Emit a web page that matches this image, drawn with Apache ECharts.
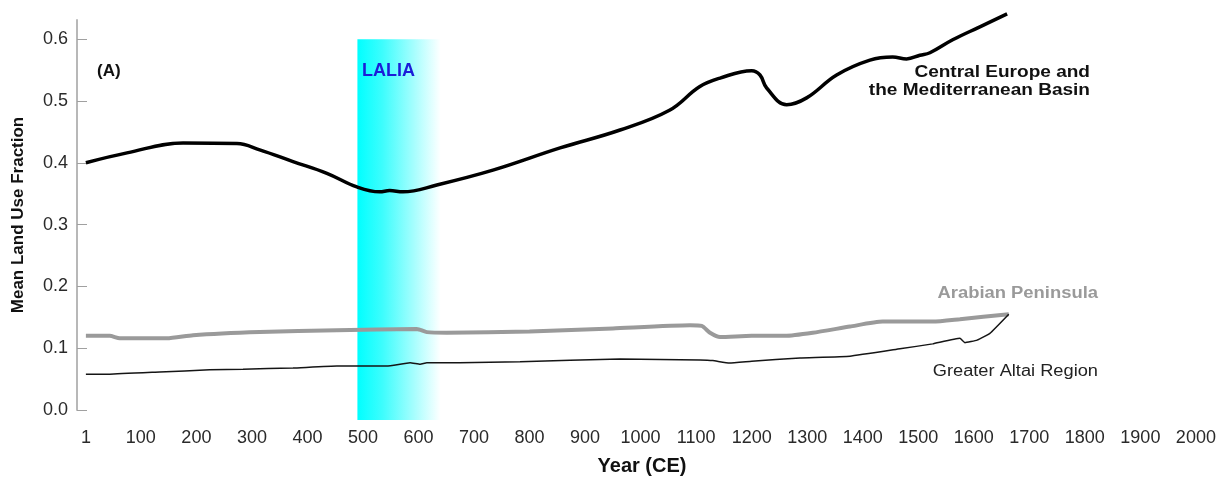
<!DOCTYPE html>
<html>
<head>
<meta charset="utf-8">
<script src="https://cdn.jsdelivr.net/npm/echarts@6/dist/echarts.min.js"></script>
<style>
html,body{margin:0;padding:0;background:#fff;}
#chart{width:1223px;height:479px;}
</style>
</head>
<body>
<div id="chart"></div>
<script>
// ---- data ----
var xTickLabels = [1,100,200,300,400,500,600,700,800,900,1000,1100,1200,1300,1400,1500,1600,1700,1800,1900,2000];
var yTickValues = [0,0.1,0.2,0.3,0.4,0.5,0.6];

var europeYears  = [1,75,176,273,314,374,435,489,530,548,572,633,734,855,963,1052,1106,1143,1200,1215,1227,1263,1299,1353,1413,1454,1479,1503,1521,1562,1611,1660];
var europeValues = [0.400,0.416,0.432,0.431,0.421,0.402,0.383,0.361,0.353,0.355,0.353,0.364,0.388,0.424,0.453,0.485,0.523,0.537,0.549,0.542,0.521,0.494,0.505,0.542,0.566,0.571,0.568,0.574,0.578,0.599,0.620,0.641];

var arabiaYears  = [1,44,62,147,194,314,453,597,615,651,800,950,1089,1110,1125,1143,1200,1260,1310,1377,1436,1526,1575,1663];
var arabiaValues = [0.120,0.120,0.116,0.116,0.121,0.126,0.129,0.131,0.126,0.125,0.127,0.132,0.137,0.136,0.125,0.118,0.120,0.120,0.125,0.135,0.143,0.143,0.147,0.155];

var altaiYears  = [1,44,134,224,284,374,453,543,585,603,615,674,783,963,1107,1130,1160,1200,1287,1377,1467,1526,1575,1584,1606,1629,1663];
var altaiValues = [0.058,0.058,0.0615,0.065,0.066,0.068,0.071,0.071,0.0765,0.074,0.0765,0.0765,0.078,0.0825,0.081,0.080,0.076,0.079,0.084,0.087,0.099,0.107,0.116,0.109,0.113,0.124,0.155];

var laliaStart = 490;
var laliaEnd = 640;
var laliaTop = 0.6;

function pairs(xs, ys){ return xs.map(function(x,i){ return [x, ys[i]]; }); }

var FONT = '"Liberation Sans", Arial, Helvetica, sans-serif';
var X_MIN = -15, X_MAX = 2020;

var chart = echarts.init(document.getElementById('chart'), null, {renderer:'canvas'});
var option = {
  backgroundColor: '#ffffff',
  animation: false,
  grid: [
    {left: 77, right: 16, top: 20, bottom: 69, containLabel: false, outerBoundsMode: 'none'},
    {left: 77, right: 16, top: 20, bottom: 59, containLabel: false, outerBoundsMode: 'none'}
  ],
  xAxis: [
    {
      type: 'value', gridIndex: 0, min: X_MIN, max: X_MAX,
      axisLine: {show: false, onZero: false}, axisTick: {show: false}, splitLine: {show: false},
      axisLabel: {customValues: xTickLabels, fontSize: 18, color: '#2a2a2a', fontFamily: FONT, margin: 19,
        formatter: function(v){ return String(Math.round(v)); }},
      name: 'Year (CE)', nameLocation: 'middle', nameGap: 46,
      nameTextStyle: {fontSize: 20, fontWeight: 'bold', color: '#111', fontFamily: FONT}
    },
    {
      type: 'value', gridIndex: 1, min: X_MIN, max: X_MAX, show: false
    }
  ],
  yAxis: [
    {
      type: 'value', gridIndex: 0, min: 0, max: 0.631,
      axisLine: {show: true, onZero: false, lineStyle: {color: '#b8b8b8', width: 2}},
      axisTick: {show: true, inside: true, length: 10, customValues: yTickValues, lineStyle: {color: '#a0a0a0', width: 1}},
      splitLine: {show: false},
      axisLabel: {customValues: yTickValues, fontSize: 18, color: '#2a2a2a', fontFamily: FONT, margin: 9,
        formatter: function(v){ return v.toFixed(1); }},
      name: 'Mean Land Use Fraction', nameLocation: 'middle', nameGap: 50, nameRotate: 90,
      nameTextStyle: {fontSize: 17, fontWeight: 'bold', color: '#111', fontFamily: FONT}
    },
    {
      type: 'value', gridIndex: 1, min: -0.0162, max: 0.631, show: false
    }
  ],
  series: [
    {
      type: 'line', xAxisIndex: 1, yAxisIndex: 1, data: [], z: 0, silent: true,
      markArea: {
        silent: true,
        itemStyle: {
          color: {type: 'linear', x: 0, y: 0, x2: 1, y2: 0,
            colorStops: [{offset: 0, color: '#00FFFF'}, {offset: 0.3, color: '#3DFDFD'}, {offset: 1, color: '#FFFFFF'}]}
        },
        data: [[{xAxis: laliaStart, yAxis: -0.0162}, {xAxis: laliaEnd, yAxis: laliaTop}]]
      }
    },
    {
      name: 'Arabian Peninsula', type: 'line', data: pairs(arabiaYears, arabiaValues),
      showSymbol: false, smooth: 0.2, lineStyle: {color: '#9a9a9a', width: 4}, z: 3
    },
    {
      name: 'Greater Altai Region', type: 'line', data: pairs(altaiYears, altaiValues),
      showSymbol: false, smooth: 0.1, lineStyle: {color: '#151515', width: 1.5}, z: 4
    },
    {
      name: 'Central Europe and the Mediterranean Basin', type: 'line', data: pairs(europeYears, europeValues),
      showSymbol: false, smooth: 0.4, clip: false, lineStyle: {color: '#000', width: 3.5}, z: 5
    }
  ],
  graphic: [
    {type: 'text', z: 100, x: 97, y: 71, style: {text: '(A)', font: 'bold 17px ' + FONT, fill: '#111', textVerticalAlign: 'middle'}},
    {type: 'text', z: 100, x: 362, y: 71, style: {text: 'LALIA', font: 'bold 18px ' + FONT, fill: '#1c1cd8', textVerticalAlign: 'middle'}},
    {type: 'text', z: 100, x: 1090, y: 73, scaleX: 1.19, style: {text: 'Central Europe and', font: 'bold 16px ' + FONT, fill: '#111', textAlign: 'right', textVerticalAlign: 'middle'}},
    {type: 'text', z: 100, x: 1090, y: 91, scaleX: 1.19, style: {text: 'the Mediterranean Basin', font: 'bold 16px ' + FONT, fill: '#111', textAlign: 'right', textVerticalAlign: 'middle'}},
    {type: 'text', z: 100, x: 1098, y: 294, scaleX: 1.15, style: {text: 'Arabian Peninsula', font: 'bold 16px ' + FONT, fill: '#9a9a9a', textAlign: 'right', textVerticalAlign: 'middle'}},
    {type: 'text', z: 100, x: 1098, y: 372, scaleX: 1.14, style: {text: 'Greater Altai Region', font: '16px ' + FONT, fill: '#222', textAlign: 'right', textVerticalAlign: 'middle'}}
  ]
};
chart.setOption(option);
</script>
</body>
</html>
